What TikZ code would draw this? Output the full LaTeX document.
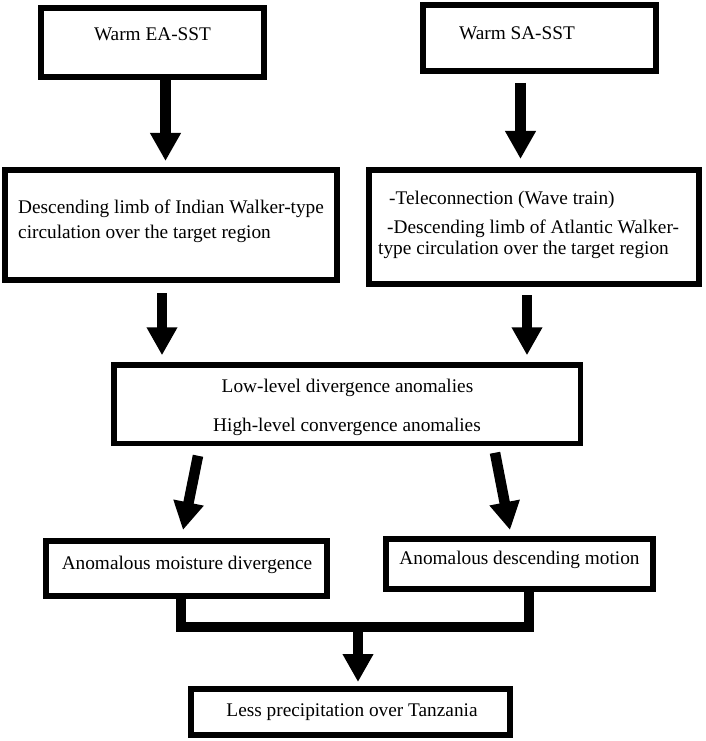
\documentclass[tikz,border=0pt]{standalone}
\usepackage{fontspec}
\setmainfont{Liberation Serif}
\usetikzlibrary{arrows.meta}
\begin{document}
\begin{tikzpicture}[x=1pt,y=-1pt,
  box/.style={draw=black, line width=6pt, inner sep=0pt, fill=white},
  lab/.style={font=\fontsize{19.3}{23}\selectfont, inner sep=0pt, text=black},
  arr/.style={draw=black, line width=11pt, -{Triangle[width=29pt,length=28pt]}},
  joinline/.style={draw=black, line width=9.5pt, line join=miter}]
\useasboundingbox (0,0) rectangle (706,741);
\fill[white] (0,0) rectangle (706,741);
% boxes
\node[box, minimum width=223pt, minimum height=69pt] (ea) at (152.5,42.5) {};
\node[box, minimum width=233pt, minimum height=66pt] (sa) at (539.5,38) {};
\node[box, minimum width=332pt, minimum height=110pt] (indian) at (171,225) {};
\node[box, minimum width=330pt, minimum height=114pt] (atl) at (534,227) {};
\node[box, line width=5.5pt, minimum width=466.5pt, minimum height=78.5pt] (mid) at (347,404) {};
\node[box, minimum width=281pt, minimum height=55pt] (moist) at (186.5,568.5) {};
\node[box, minimum width=267pt, minimum height=50pt] (desc) at (519.5,564) {};
\node[box, minimum width=319pt, minimum height=46pt] (less) at (350.5,712) {};
% texts
\node[lab, anchor=base] (tea) at (152.5,41) {Warm EA-SST};
\node[lab, anchor=base] (tsa) at (517,39.5) {Warm SA-SST};
\node[lab, anchor=base west] (tind1) at (18,213.5) {Descending limb of Indian Walker-type};
\node[lab, anchor=base west] (tind2) at (18,238) {circulation over the target region};
\node[lab, anchor=base west] (tatl1) at (389,204) {-Teleconnection (Wave train)};
\node[lab, anchor=base west] (tatl2) at (387,233) {-Descending limb of Atlantic Walker-};
\node[lab, anchor=base west] (tatl3) at (378,254) {type circulation over the target region};
\node[lab, anchor=base] (tmid1) at (347.5,392) {Low-level divergence anomalies};
\node[lab, anchor=base] (tmid2) at (347,431) {High-level convergence anomalies};
\node[lab, anchor=base] (tmoist) at (187,569.5) {Anomalous moisture divergence};
\node[lab, anchor=base] (tdesc) at (519.5,564) {Anomalous descending motion};
\node[lab, anchor=base] (tless) at (352,716) {Less precipitation over Tanzania};
% arrows
\draw[arr, shorten >=6pt] ([xshift=13pt]ea.south) -- ([xshift=-5.5pt]indian.north);
\draw[arr, shorten <=9pt, shorten >=8pt] ([xshift=-19pt]sa.south) -- ([xshift=-13.5pt]atl.north);
\draw[arr, line width=10.5pt, shorten <=10pt, shorten >=6.75pt] ([xshift=-9pt]indian.south) -- ([xshift=-185pt]mid.north);
\draw[arr, line width=10pt, shorten <=8pt, shorten >=6.75pt] ([xshift=-7pt]atl.south) -- ([xshift=180pt]mid.north);
\draw[arr, line width=10.5pt] ([xshift=-149pt,yshift=-9.75pt]mid.south) -- ([xshift=-3.5pt,yshift=8pt]moist.north);
\draw[arr, line width=10.5pt] ([xshift=148pt,yshift=-6.75pt]mid.south) -- ([xshift=-9.5pt,yshift=6pt]desc.north);
% joining connector
\coordinate (J) at (358,627);
\draw[joinline] ([xshift=-5.5pt]moist.south) |- (J) -| ([xshift=9.5pt]desc.south);
\draw[arr, line width=10pt, shorten >=4pt] (J) -- ([xshift=7.5pt]less.north);
\end{tikzpicture}
\end{document}
